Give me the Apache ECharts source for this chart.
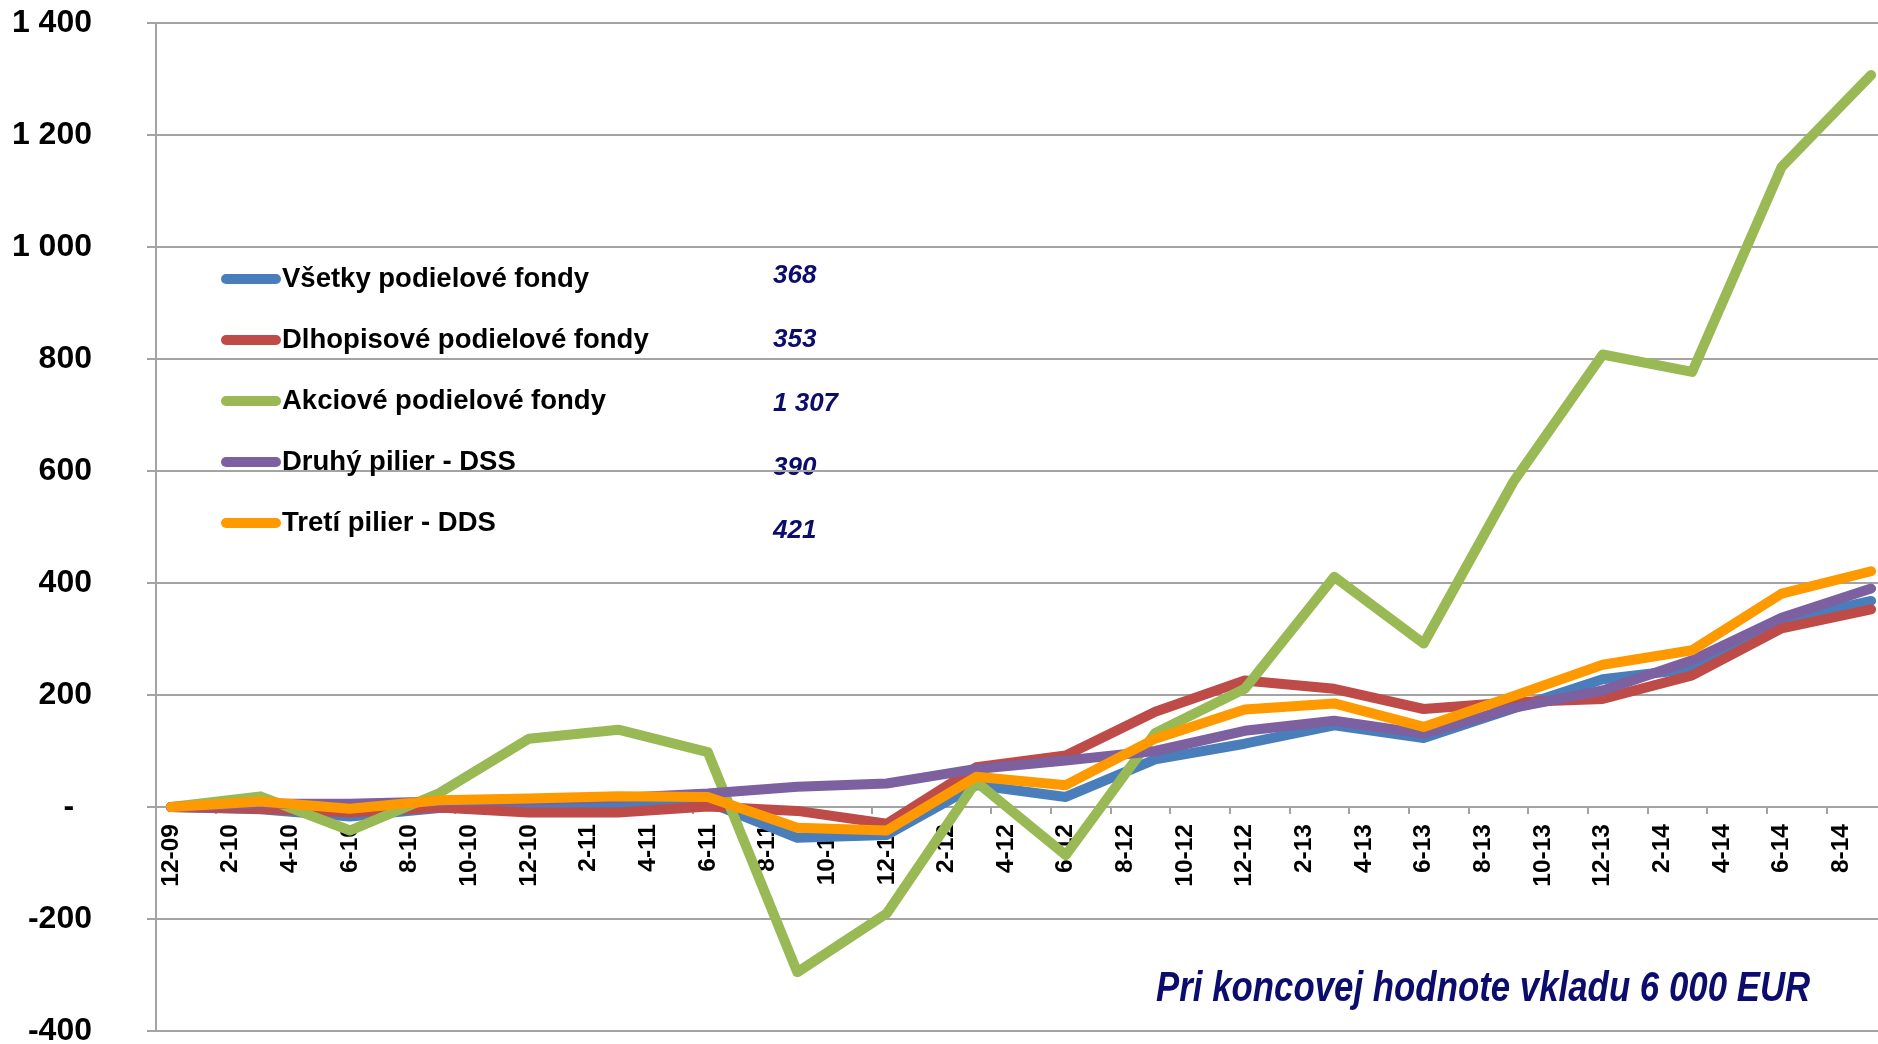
<!DOCTYPE html>
<html>
<head>
<meta charset="utf-8">
<title>Zhodnotenie vkladu</title>
<script src="https://cdn.jsdelivr.net/npm/echarts@6/dist/echarts.min.js"></script>
<style>
    html, body { margin: 0; padding: 0; background: #fff; }
    #chart { width: 1878px; height: 1044px; }
</style>
</head>
<body>
<div id="chart"></div>
<script>
// mesacne kategorie osi x (popis kazdy druhy mesiac)
var months = ['12-09',
    '1-10','2-10','3-10','4-10','5-10','6-10','7-10','8-10','9-10','10-10','11-10','12-10',
    '1-11','2-11','3-11','4-11','5-11','6-11','7-11','8-11','9-11','10-11','11-11','12-11',
    '1-12','2-12','3-12','4-12','5-12','6-12','7-12','8-12','9-12','10-12','11-12','12-12',
    '1-13','2-13','3-13','4-13','5-13','6-13','7-13','8-13','9-13','10-13','11-13','12-13',
    '1-14','2-14','3-14','4-14','5-14','6-14','7-14','8-14','9-14'];

// stvrtrocne body dat
var quarters = ['12-09','3-10','6-10','9-10','12-10','3-11','6-11','9-11','12-11','3-12',
    '6-12','9-12','12-12','3-13','6-13','9-13','12-13','3-14','6-14','9-14'];

var seriesNames = ['Všetky podielové fondy', 'Dlhopisové podielové fondy', 'Akciové podielové fondy',
    'Druhý pilier - DSS', 'Tretí pilier - DDS'];
var seriesColors = ['#4A7EBB', '#BE4B48', '#98B954', '#7D60A0', '#FF9900'];

var vsetky = [0, -4, -17, -2, 3, 6, 9, -55, -50, 39, 18, 85, 113, 146, 123, 176, 228, 247, 333, 368];
var dlhopisove = [0, -3, -10, -1, -10, -10, 1, -7, -30, 71, 92, 170, 226, 211, 175, 187, 193, 235, 319, 353];
var akciove = [0, 19, -42, 25, 122, 138, 98, -295, -190, 45, -86, 132, 211, 411, 292, 580, 808, 777, 1143, 1307];
var druhyPilier = [0, 6, 6, 10, 12, 16, 24, 36, 42, 68, 83, 100, 136, 154, 131, 177, 208, 262, 338, 390];
var tretiPilier = [0, 10, -3, 12, 15, 19, 18, -37, -42, 54, 39, 122, 174, 185, 143, 198, 254, 280, 381, 421];

// hodnoty na konci obdobia vedla legendy
var endValues = ['368', '353', '1 307', '390', '421'];
var note = 'Pri koncovej hodnote vkladu 6 000 EUR';

var allValues = [vsetky, dlhopisove, akciove, druhyPilier, tretiPilier];

var gridColor = '#A3A3A3';
var navy = '#0C0C6C';

function pairs(values) {
    var out = [];
    for (var i = 0; i < quarters.length; i++) {
        out.push([quarters[i], values[i]]);
    }
    return out;
}

var series = [];
for (var s = 0; s < seriesNames.length; s++) {
    series.push({
        name: seriesNames[s],
        type: 'line',
        data: pairs(allValues[s]),
        symbol: 'none',
        smooth: false,
        color: seriesColors[s],
        lineStyle: { width: 10, color: seriesColors[s], cap: 'round', join: 'round' },
        z: 2 + s
    });
}

// texty s hodnotami vedla legendy
var valueTops = [278, 342, 406, 470, 533];
var graphics = [];
for (var g = 0; g < endValues.length; g++) {
    graphics.push({
        type: 'text',
        x: 773,
        y: valueTops[g] - 15,
        style: {
            text: endValues[g],
            fill: navy,
            font: 'italic bold 26px "Liberation Sans", Arial, sans-serif'
        }
    });
}
// poznamka vpravo dole (zuzene pismo cez scaleX)
graphics.push({
    type: 'text',
    x: 1156,
    y: 968,
    scaleX: 0.81,
    style: {
        text: note,
        fill: navy,
        font: 'italic bold 43px "Liberation Sans", Arial, sans-serif'
    }
});

var myChart = echarts.init(document.getElementById('chart'));
var option = {
    animation: false,
    backgroundColor: '#fff',
    grid: { left: 156, right: -8, top: 23, bottom: 13, outerBoundsMode: 'none', containLabel: false },
    legend: {
        orient: 'vertical',
        left: 216,
        top: 259,
        itemWidth: 60,
        itemHeight: 10,
        itemGap: 31,
        selectedMode: false,
        icon: 'path://M5,0 L55,0 A5,5 0 0 1 55,10 L5,10 A5,5 0 0 1 5,0 Z',
        data: seriesNames,
        textStyle: {
            fontFamily: '"Liberation Sans", Arial, sans-serif',
            fontWeight: 'bold',
            fontSize: 27.5,
            lineHeight: 30,
            color: '#000',
            padding: [0, 0, 0, -4]
        }
    },
    xAxis: {
        type: 'category',
        data: months,
        boundaryGap: true,
        offset: -224,
        axisLine: { onZero: false, lineStyle: { color: gridColor, width: 2 } },
        axisTick: { show: true, interval: 1, length: 7, lineStyle: { color: gridColor, width: 2 } },
        axisLabel: {
            interval: 1,
            rotate: 90,
            margin: 17,
            color: '#000',
            fontFamily: '"Liberation Sans", Arial, sans-serif',
            fontWeight: 'bold',
            fontSize: 24.5
        },
        splitLine: { show: false }
    },
    yAxis: {
        type: 'value',
        min: -400,
        max: 1400,
        interval: 200,
        axisLine: { show: true, lineStyle: { color: gridColor, width: 2 } },
        axisTick: { show: true, length: 9, lineStyle: { color: gridColor, width: 2 } },
        axisLabel: {
            margin: 64,
            color: '#000',
            fontFamily: '"Liberation Sans", Arial, sans-serif',
            fontWeight: 'bold',
            fontSize: 32,
            formatter: function (v) {
                if (v === 0) {
                    return '-  ';
                }
                var sign = v < 0 ? '-' : '';
                var a = Math.abs(v);
                var str = String(a);
                if (a >= 1000) {
                    str = Math.floor(a / 1000) + ' ' + String(a % 1000 + 1000).substr(1);
                }
                return sign + str;
            }
        },
        splitLine: { show: true, lineStyle: { color: gridColor, width: 2 } }
    },
    graphic: graphics,
    series: series
};
myChart.setOption(option);
</script>
</body>
</html>
